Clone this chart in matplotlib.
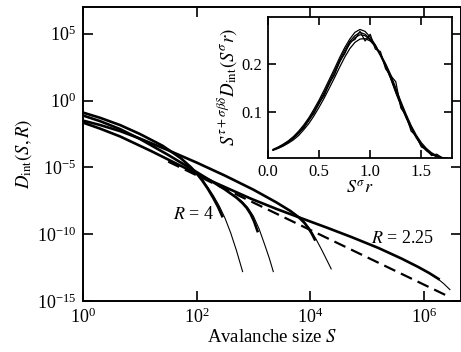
import numpy as np
import matplotlib
matplotlib.use("Agg")
import matplotlib.pyplot as plt
from matplotlib.ticker import FixedLocator, NullLocator

plt.rcParams['font.family'] = ['Liberation Serif', 'DejaVu Serif']
plt.rcParams['mathtext.fontset'] = 'stix'

# main panel, log10 values
# thick = simulation data, thin = scaling fit past the data
r4_logS = [0, 0.3, 0.655, 1.0, 1.4, 1.72, 1.9, 2.0, 2.1, 2.2, 2.3, 2.38, 2.46]
r4_logD = [-0.9, -1.29, -1.84, -2.5, -3.38, -4.31, -4.99, -5.45, -5.99, -6.62, -7.34, -7.98, -8.74]
r4_fit_logS = [2.0, 2.1, 2.2, 2.3, 2.4, 2.5, 2.6, 2.7, 2.81]
r4_fit_logD = [-5.4, -5.9, -6.5, -7.15, -7.9, -8.8, -9.9, -11.2, -12.8]

r32_logS = [0, 0.3, 0.655, 1.0, 1.5, 2.0, 2.48, 2.7, 2.8, 2.88, 2.95, 3.01, 3.08]
r32_logD = [-1.12, -1.54, -2.14, -2.87, -4.07, -5.35, -6.6, -7.26, -7.64, -8.02, -8.48, -9.02, -9.86]
r32_fit_logS = [2.7, 2.8, 2.9, 3.0, 3.1, 3.2, 3.28, 3.35]
r32_fit_logD = [-7.2, -7.55, -8.0, -8.65, -9.6, -10.8, -11.8, -12.8]

r26_logS = [0, 0.3, 0.655, 1.0, 1.5, 2.0, 2.5, 3.0, 3.4, 3.65, 3.8, 3.9, 3.97, 4.03, 4.09]
r26_logD = [-1.5, -1.83, -2.29, -2.84, -3.72, -4.64, -5.62, -6.67, -7.61, -8.26, -8.74, -9.16, -9.55, -9.97, -10.48]
r26_fit_logS = [3.7, 3.8, 3.9, 4.0, 4.1, 4.2, 4.3, 4.37]
r26_fit_logD = [-8.4, -8.72, -9.12, -9.65, -10.35, -11.15, -12.0, -12.6]

r225_logS = [0, 0.3, 0.655, 1.2, 1.8, 2.3, 2.96, 3.4, 3.84, 4.3, 4.73, 5.2, 5.61, 5.9, 6.1, 6.28]
r225_logD = [-1.65, -2.1, -2.69, -3.78, -5.05, -6.1, -7.35, -8.1, -8.8, -9.52, -10.22, -11.03, -11.83, -12.45, -12.92, -13.4]
r225_fit_logS = [6.1, 6.25, 6.35, 6.46]
r225_fit_logD = [-12.95, -13.35, -13.7, -14.15]

# power law asymptote
asym_logS = [1.5, 6.44]
asym_logD = [-4.57, -14.67]

# inset: collapsed scaling function
inset_x = [0.05, 0.10, 0.15, 0.20, 0.25, 0.30, 0.35, 0.40, 0.45, 0.50,
           0.55, 0.60, 0.65, 0.70, 0.75, 0.80, 0.85, 0.90, 0.95, 1.00,
           1.05, 1.10, 1.15, 1.20, 1.25, 1.30, 1.35, 1.40, 1.45, 1.50,
           1.55, 1.60, 1.65, 1.70, 1.75]
inset_c1 = [0.021, 0.026, 0.031, 0.037, 0.045, 0.055, 0.068, 0.082, 0.099, 0.117,
            0.137, 0.158, 0.180, 0.203, 0.224, 0.242, 0.255, 0.261, 0.259, 0.250,
            0.236, 0.217, 0.195, 0.170, 0.140, 0.113, 0.088, 0.065, 0.046, 0.030,
            0.019, 0.011, 0.007, 0.004, 0.002]
inset_c2 = [0.022, 0.027, 0.033, 0.040, 0.049, 0.060, 0.073, 0.088, 0.106, 0.125,
            0.146, 0.168, 0.190, 0.213, 0.234, 0.252, 0.266, 0.272, 0.268, 0.256,
            0.240, 0.219, 0.196, 0.170, 0.142, 0.115, 0.090, 0.067, 0.048, 0.032,
            0.020, 0.012, 0.007, 0.004, 0.003]
inset_c3 = [0.020, 0.024, 0.029, 0.035, 0.042, 0.051, 0.063, 0.076, 0.092, 0.110,
            0.129, 0.150, 0.171, 0.193, 0.214, 0.232, 0.245, 0.252, 0.253, 0.248,
            0.237, 0.221, 0.201, 0.178, 0.150, 0.122, 0.096, 0.072, 0.052, 0.036,
            0.024, 0.015, 0.009, 0.005, 0.003]
inset_c4 = [0.021, 0.025, 0.030, 0.038, 0.046, 0.057, 0.066, 0.084, 0.097, 0.120,
            0.134, 0.161, 0.177, 0.206, 0.221, 0.246, 0.251, 0.268, 0.248, 0.262,
            0.231, 0.226, 0.190, 0.176, 0.163, 0.108, 0.093, 0.060, 0.050, 0.027,
            0.022, 0.009, 0.012, 0.005, 0.003]
inset_c5 = [0.021, 0.026, 0.032, 0.039, 0.047, 0.058, 0.070, 0.085, 0.102, 0.121,
            0.141, 0.163, 0.185, 0.208, 0.229, 0.247, 0.259, 0.266, 0.262, 0.252,
            0.239, 0.220, 0.199, 0.174, 0.146, 0.118, 0.092, 0.069, 0.049, 0.033,
            0.021, 0.013, 0.008, 0.005, 0.002]


def pw(vals):
    return 10 ** np.array(vals)


fig = plt.figure(figsize=(4.61, 3.52), dpi=100)
ax = fig.add_axes([83 / 461, 51 / 352, 378 / 461, 294 / 352])

thick = dict(color='black', lw=1.9, solid_capstyle='butt', solid_joinstyle='round')
thin = dict(color='black', lw=0.8)
for lS, lD in [(r4_fit_logS, r4_fit_logD), (r32_fit_logS, r32_fit_logD),
               (r26_fit_logS, r26_fit_logD), (r225_fit_logS, r225_fit_logD)]:
    ax.plot(pw(lS), pw(lD), **thin)
ax.plot(pw(asym_logS), pw(asym_logD), color='black', lw=1.6, dashes=(5.5, 2.8))
for lS, lD in [(r4_logS, r4_logD), (r32_logS, r32_logD),
               (r26_logS, r26_logD), (r225_logS, r225_logD)]:
    ax.plot(pw(lS), pw(lD), **thick)

ax.set_xscale('log')
ax.set_yscale('log')
ax.set_xlim(1, 10 ** 6.655)
ax.set_ylim(1e-15, 1e7)
ax.xaxis.set_major_locator(FixedLocator([1, 1e2, 1e4, 1e6]))
ax.yaxis.set_major_locator(FixedLocator([1e-15, 1e-10, 1e-5, 1, 1e5]))
ax.xaxis.set_minor_locator(NullLocator())
ax.yaxis.set_minor_locator(NullLocator())
ax.tick_params(direction='in', length=7, width=1.2, top=True, right=True,
               labelsize=13, pad=5)
for sp in ax.spines.values():
    sp.set_linewidth(1.4)
ax.set_xlabel('Avalanche size $S$', fontsize=13.5, labelpad=1)
ax.set_ylabel(r'$D_{\rm int}(S,R)$', fontsize=13.5, labelpad=2)

ax.text(10 ** 1.95, 10 ** -8.53, '$R$ = 4', ha='center', va='center', fontsize=13)
ax.text(10 ** 5.63, 10 ** -10.33, '$R$ = 2.25', ha='center', va='center', fontsize=13)

# inset
ax_in = fig.add_axes([268 / 461, 194 / 352, 184 / 461, 141 / 352])
for c in [inset_c1, inset_c2, inset_c3, inset_c4, inset_c5]:
    ax_in.plot(inset_x, c, color='black', lw=0.9)
ax_in.set_xlim(0, 1.8)
ax_in.set_ylim(0.004, 0.298)
ax_in.set_xticks([0, 0.5, 1.0, 1.5])
ax_in.set_yticks([0.1, 0.2])
ax_in.tick_params(direction='in', length=6, width=1.2, top=True, right=True,
                  labelsize=12, pad=4)
for sp in ax_in.spines.values():
    sp.set_linewidth(1.3)
ax_in.set_xlabel(r'$S^{\sigma}r$', fontsize=13, labelpad=0)
ax_in.set_ylabel(r'$S^{\tau+\sigma\beta\delta}D_{\rm int}(S^{\sigma}r)$', fontsize=13.5, labelpad=2)

fig.savefig('out.png', dpi=100)
